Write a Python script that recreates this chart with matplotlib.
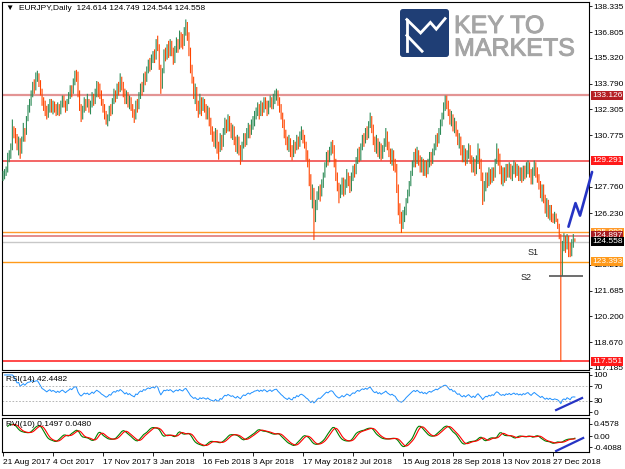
import numpy as np
import pandas as pd
import matplotlib
matplotlib.use("Agg")
import matplotlib.pyplot as plt
import matplotlib.patheffects as pe
from matplotlib.patches import FancyBboxPatch

plt.rcParams['font.family'] = ['Liberation Sans', 'DejaVu Sans']

W, H = 625, 469

# daily EURJPY bars, 21 Aug 2017 onwards (open = previous close)
first_open = 128.30
close = [
    128.45, 128.60, 128.70, 129.55, 129.70, 130.05, 131.05, 130.90, 130.55, 130.20,
    130.45, 129.90, 130.50, 131.05, 130.80, 131.70, 132.40, 132.60, 133.20, 133.70,
    133.55, 134.10, 134.30, 133.90, 133.40, 132.80, 132.60, 132.30, 132.00, 132.40,
    132.70, 132.30, 132.60, 132.40, 132.10, 132.50, 132.20, 132.60, 132.90, 132.60,
    132.30, 132.70, 133.00, 133.50, 133.30, 133.90, 134.40, 134.30, 133.20, 132.40,
    131.90, 132.30, 132.80, 132.50, 132.80, 132.30, 132.60, 133.10, 132.70, 133.30,
    133.80, 133.50, 133.20, 132.70, 132.40, 132.00, 131.60, 131.80, 132.30, 132.10,
    132.80, 133.20, 133.00, 133.60, 133.40, 134.00, 133.70, 133.30, 132.80, 133.20,
    132.60, 132.90, 132.40, 132.10, 131.80, 132.60, 132.40, 133.10, 133.60, 133.40,
    134.20, 134.00, 134.60, 135.00, 134.80, 135.30, 135.50, 135.30, 136.20, 136.00,
    134.80, 133.60, 134.50, 135.60, 135.40, 135.90, 135.60, 136.10, 135.70, 135.20,
    135.80, 136.20, 135.90, 136.60, 136.30, 136.10, 136.90, 137.30, 136.60, 135.80,
    134.70, 134.00, 133.20, 133.50, 132.60, 132.30, 132.90, 132.40, 132.70, 132.40,
    131.90, 132.30, 131.60, 131.10, 130.80, 130.40, 130.90, 130.00, 129.90, 130.60,
    130.20, 130.90, 131.50, 131.20, 131.70, 131.30, 130.90, 131.10, 130.50, 130.10,
    130.60, 130.00, 129.50, 130.20, 130.70, 130.40, 130.90, 131.30, 130.90, 131.40,
    131.60, 132.00, 132.10, 132.40, 132.00, 132.50, 132.20, 132.80, 132.60, 132.20,
    132.60, 132.90, 132.50, 132.90, 133.20, 133.30, 132.80, 132.40, 131.90, 131.50,
    130.90, 130.50, 130.10, 130.50, 129.90, 129.60, 130.20, 130.00, 130.60, 130.20,
    130.70, 130.90, 130.60, 130.20, 129.60, 129.20, 128.20, 127.20, 127.60, 126.20,
    126.60, 127.20, 127.60, 127.40, 127.90, 128.40, 129.00, 129.60, 129.30, 129.90,
    130.20, 130.00, 129.20, 128.40, 127.80, 127.30, 127.60, 128.10, 127.50, 127.90,
    128.50, 128.20, 127.70, 128.30, 128.80, 128.60, 129.30, 129.80, 129.50, 130.10,
    130.60, 130.40, 131.00, 130.70, 131.40, 131.80, 131.20, 130.50, 130.10, 130.50,
    129.80, 130.20, 129.60, 130.00, 130.30, 130.80, 130.20, 129.80, 129.40, 129.70,
    129.20, 128.90, 127.70, 126.50, 126.00, 125.60, 125.90, 126.30, 126.90, 127.40,
    127.90, 128.50, 129.10, 129.60, 129.20, 129.80, 129.40, 128.90, 129.30, 128.70,
    129.10, 128.60, 129.20, 129.60, 129.30, 129.80, 130.10, 130.60, 130.40, 131.00,
    131.50, 131.90, 132.50, 132.80, 132.60, 132.10, 131.60, 131.90, 131.30, 131.50,
    130.90, 130.40, 130.60, 129.90, 129.50, 129.90, 129.30, 129.70, 130.00, 129.40,
    128.90, 129.30, 128.70, 129.40, 129.90, 129.20, 128.40, 127.20, 127.80, 128.30,
    128.00, 128.60, 128.20, 128.70, 128.40, 129.20, 129.80, 129.50, 128.80, 128.40,
    128.70, 128.30, 128.90, 128.60, 129.00, 128.50, 128.80, 129.10, 128.60, 128.90,
    128.40, 128.70, 128.30, 128.80, 128.50, 128.90, 129.10, 128.60, 128.20, 128.70,
    129.10, 128.70, 128.30, 127.90, 127.40, 127.70, 127.10, 126.50, 126.80, 126.20,
    126.50, 126.00, 125.80, 126.00, 125.80, 125.60, 124.90, 123.50, 124.40, 124.70,
    124.20, 124.80, 124.30, 123.80, 124.50, 124.614, 124.558,
]
high = [
    128.70, 128.80, 128.95, 129.75, 129.90, 130.30, 131.70, 131.30, 131.20, 130.85,
    130.70, 130.60, 130.70, 131.50, 131.20, 131.90, 132.55, 132.90, 133.40, 133.90,
    134.05, 134.45, 134.55, 134.40, 134.00, 133.50, 133.00, 132.80, 132.50, 132.60,
    132.90, 132.90, 132.80, 132.75, 132.60, 132.70, 132.60, 132.80, 133.10, 133.10,
    132.80, 132.90, 133.30, 133.70, 133.70, 134.10, 134.55, 134.60, 134.50, 133.40,
    132.60, 132.50, 133.00, 132.90, 133.20, 132.90, 132.80, 133.30, 133.20, 133.50,
    133.95, 133.90, 133.80, 133.40, 132.90, 132.60, 132.20, 132.00, 132.50, 132.60,
    132.95, 133.50, 133.40, 133.80, 133.90, 134.40, 134.20, 133.90, 133.50, 133.40,
    133.30, 133.10, 133.00, 132.60, 132.30, 132.80, 132.90, 133.30, 133.80, 133.90,
    134.40, 134.50, 134.80, 135.20, 135.30, 135.50, 135.70, 135.80, 136.40, 136.60,
    136.10, 134.90, 134.70, 135.80, 135.90, 136.10, 136.30, 136.40, 136.30, 135.90,
    136.00, 136.50, 136.40, 136.90, 136.80, 136.70, 137.10, 137.55, 137.40, 136.80,
    135.90, 134.90, 134.20, 133.80, 133.60, 132.80, 133.20, 133.00, 133.00, 132.90,
    132.60, 132.50, 132.40, 131.80, 131.30, 131.00, 131.20, 131.10, 130.40, 130.90,
    130.80, 131.20, 131.80, 131.70, 132.00, 131.90, 131.50, 131.40, 131.30, 130.70,
    130.80, 130.70, 130.20, 130.40, 130.90, 130.90, 131.20, 131.50, 131.40, 131.70,
    131.90, 132.20, 132.40, 132.70, 132.60, 132.80, 132.70, 133.00, 133.00, 132.80,
    132.80, 133.10, 133.00, 133.20, 133.40, 133.50, 133.40, 133.00, 132.60, 132.10,
    131.70, 131.10, 130.70, 130.80, 130.60, 130.20, 130.50, 130.40, 130.80, 130.70,
    131.00, 131.30, 131.10, 130.80, 130.40, 129.90, 129.40, 128.50, 127.90, 127.70,
    127.00, 127.50, 127.80, 127.90, 128.20, 128.60, 129.20, 129.80, 129.90, 130.10,
    130.40, 130.50, 130.20, 129.40, 128.60, 128.00, 127.90, 128.30, 128.30, 128.20,
    128.80, 128.60, 128.40, 128.60, 129.00, 129.10, 129.50, 130.00, 130.10, 130.30,
    130.80, 130.90, 131.20, 131.30, 131.60, 132.10, 131.90, 131.40, 130.70, 130.80,
    130.60, 130.40, 130.30, 130.20, 130.60, 131.20, 131.00, 130.40, 130.00, 130.00,
    129.90, 129.40, 129.10, 127.90, 126.80, 126.30, 126.40, 126.60, 127.10, 127.60,
    128.10, 128.70, 129.30, 129.80, 130.00, 130.10, 129.90, 129.60, 129.50, 129.40,
    129.30, 129.30, 129.40, 129.80, 129.80, 130.00, 130.30, 130.80, 130.90, 131.20,
    131.70, 132.10, 132.70, 133.10, 133.10, 132.80, 132.30, 132.20, 132.00, 131.80,
    131.60, 131.10, 130.90, 130.70, 130.20, 130.20, 130.00, 129.90, 130.30, 130.20,
    129.60, 129.50, 129.40, 129.60, 130.30, 130.00, 129.40, 128.60, 128.10, 128.60,
    128.60, 128.90, 128.80, 128.90, 128.90, 129.40, 130.30, 130.00, 129.70, 129.00,
    128.90, 128.90, 129.10, 129.10, 129.20, 129.10, 129.00, 129.30, 129.20, 129.10,
    129.00, 128.90, 128.90, 129.00, 129.00, 129.20, 129.30, 129.20, 128.80, 128.90,
    129.30, 129.20, 128.90, 128.50, 128.10, 127.90, 127.90, 127.30, 127.10, 127.00,
    126.70, 126.70, 126.20, 126.30, 126.20, 125.90, 125.60, 125.00, 124.60, 125.05,
    124.90, 125.00, 124.90, 124.50, 124.70, 125.00, 124.749,
]
low = [
    128.10, 128.20, 128.40, 128.60, 129.20, 129.40, 129.90, 130.60, 130.30, 129.90,
    129.60, 129.40, 129.70, 130.40, 130.40, 130.80, 131.60, 132.10, 132.50, 133.00,
    133.20, 133.40, 133.90, 133.60, 133.10, 132.50, 132.20, 131.90, 131.70, 131.80,
    132.10, 132.10, 132.00, 132.10, 131.90, 131.95, 131.90, 132.00, 132.40, 132.40,
    132.10, 132.20, 132.60, 132.90, 133.00, 133.20, 133.70, 133.90, 133.00, 132.20,
    131.55, 131.70, 132.10, 132.20, 132.40, 132.10, 132.00, 132.40, 132.50, 132.60,
    133.00, 133.00, 132.90, 132.50, 132.10, 131.70, 131.40, 131.30, 131.60, 131.90,
    132.00, 132.60, 132.70, 132.90, 133.10, 133.30, 133.40, 133.00, 132.60, 132.60,
    132.40, 132.30, 132.20, 131.80, 131.50, 131.70, 132.10, 132.30, 132.90, 133.10,
    133.30, 133.70, 133.90, 134.40, 134.50, 134.60, 135.00, 135.00, 135.20, 135.70,
    134.60, 133.20, 133.50, 134.40, 135.10, 135.20, 135.30, 135.40, 135.40, 134.90,
    135.00, 135.60, 135.60, 135.80, 135.90, 135.80, 136.00, 136.60, 136.30, 135.40,
    134.40, 133.80, 132.90, 132.60, 132.20, 131.80, 132.00, 131.90, 132.20, 132.10,
    131.70, 131.70, 131.30, 130.80, 130.40, 130.10, 130.00, 129.70, 129.35, 129.80,
    129.90, 130.10, 130.80, 130.90, 131.00, 131.00, 130.60, 130.50, 130.20, 129.80,
    129.70, 129.60, 129.05, 129.30, 130.00, 130.10, 130.20, 130.60, 130.60, 130.80,
    131.10, 131.30, 131.70, 131.90, 131.70, 131.90, 131.90, 132.10, 132.30, 131.90,
    132.00, 132.40, 132.30, 132.30, 132.60, 132.80, 132.50, 132.10, 131.70, 131.20,
    130.60, 130.20, 129.90, 129.80, 129.50, 129.30, 129.50, 129.70, 129.90, 129.95,
    130.10, 130.50, 130.30, 130.00, 129.30, 128.90, 127.80, 127.00, 126.50, 124.65,
    125.70, 126.40, 127.00, 126.90, 127.20, 127.70, 128.30, 128.90, 129.00, 129.20,
    129.60, 129.70, 128.90, 128.10, 127.50, 126.80, 127.10, 127.30, 127.20, 127.30,
    127.70, 127.80, 127.40, 127.50, 128.10, 128.30, 128.50, 129.10, 129.20, 129.30,
    129.90, 130.10, 130.30, 130.50, 130.60, 131.20, 130.90, 130.20, 129.80, 129.70,
    129.50, 129.40, 129.30, 129.40, 129.80, 130.10, 129.90, 129.50, 129.10, 129.00,
    128.70, 128.60, 127.40, 126.10, 125.60, 125.06, 125.30, 125.70, 126.10, 126.80,
    127.20, 127.80, 128.40, 128.90, 128.90, 129.10, 129.00, 128.60, 128.60, 128.40,
    128.40, 128.30, 128.50, 128.90, 129.00, 129.10, 129.60, 129.90, 130.10, 130.30,
    130.80, 131.30, 131.70, 132.20, 132.30, 131.90, 131.40, 131.30, 131.00, 130.90,
    130.70, 130.20, 130.00, 129.60, 129.20, 129.20, 129.00, 129.10, 129.40, 129.10,
    128.60, 128.60, 128.40, 128.50, 129.10, 128.80, 128.10, 126.70, 126.90, 127.50,
    127.70, 127.80, 127.90, 128.00, 128.10, 128.30, 129.10, 129.00, 128.50, 127.90,
    127.80, 128.00, 128.10, 128.30, 128.30, 128.20, 128.10, 128.50, 128.30, 128.40,
    128.10, 128.10, 128.00, 128.10, 128.20, 128.30, 128.50, 128.30, 127.90, 127.90,
    128.40, 128.30, 128.00, 127.60, 127.10, 126.90, 126.80, 126.20, 126.00, 125.90,
    125.80, 125.70, 125.65, 125.60, 125.70, 125.30, 124.70, 117.551, 122.55, 124.00,
    123.90, 124.10, 123.65, 123.65, 123.70, 124.20, 124.544,
]

date_labels = ['21 Aug 2017', '4 Oct 2017', '17 Nov 2017', '3 Jan 2018',
               '16 Feb 2018', '3 Apr 2018', '17 May 2018', '2 Jul 2018',
               '15 Aug 2018', '28 Sep 2018', '13 Nov 2018', '27 Dec 2018']
bars_per_label = 32

price_ticks = [138.335, 136.805, 135.320, 133.790, 132.305, 130.775,
               127.760, 126.230, 123.215, 121.685, 120.200, 118.670, 117.185]

# horizontal levels drawn on the chart
level_prices = [133.126, 129.291, 125.093, 124.897, 124.558, 123.393, 117.551]
level_line_colors = ['#e39494', '#f03c3c', '#ff9a2a', '#e07878', '#c8c8c8', '#ff9a1a', '#ff2a2a']
level_box_colors = ['#b51f24', '#ff1a1a', '#ff9a2a', '#a51c22', '#000000', '#ff9a1a', '#ff1a1a']
level_widths = [1.6, 1.1, 1.0, 1.2, 1.0, 1.0, 1.2]

# hand drawn annotations (bar index, value)
s1_pos = (339.2, 123.91)
s2_pos = (334.7, 122.43)
s2_line = (349.6, 371.4, 122.52)
arrow_x = [361.9, 366.4, 369.3, 377.0]
arrow_y = [125.43, 126.81, 126.08, 128.63]
rsi_line_x = [354.0, 370.6]
rsi_line_y = [5.4, 37.8]
rvi_line_x = [354.0, 371.3]
rvi_line_y = [-0.546, -0.063]

rsi_ticks = [100, 70, 30, 0]
rvi_ticks = [0.4578, 0.0, -0.4088]
rvi_tick_labels = ['0.4578', '0.00', '-0.4088']


def px_box(x0, y0, x1, y1):
    # pixel box (top-left origin) -> figure fraction rect
    return [x0 / W, 1 - y1 / H, (x1 - x0) / W, (y1 - y0) / H]


def main():
    c = np.array(close)
    h = np.array(high)
    l = np.array(low)
    o = np.r_[first_open, c[:-1]]
    n = len(c)
    idx = np.arange(n)
    assert len(h) == n and len(l) == n

    # indicators
    cs = pd.Series(c)
    d = cs.diff()
    gain = d.clip(lower=0).ewm(alpha=1 / 14, adjust=False).mean()
    loss = (-d.clip(upper=0)).ewm(alpha=1 / 14, adjust=False).mean()
    rsi = 100 - 100 / (1 + gain / loss)

    co = pd.Series(c - o)
    hl = pd.Series(h - l)
    num = (co + 2 * co.shift(1) + 2 * co.shift(2) + co.shift(3)) / 6
    den = (hl + 2 * hl.shift(1) + 2 * hl.shift(2) + hl.shift(3)) / 6
    rvi = num.rolling(10, min_periods=1).mean() / den.rolling(10, min_periods=1).mean()
    sig = (rvi + 2 * rvi.shift(1) + 2 * rvi.shift(2) + rvi.shift(3)) / 6

    fig = plt.figure(figsize=(W / 100, H / 100), dpi=100)
    ax = fig.add_axes(px_box(2, 2, 589, 370))
    ax_rsi = fig.add_axes(px_box(2, 372, 589, 415))
    ax_rvi = fig.add_axes(px_box(2, 418, 589, 452))

    xlim = (-0.64, 375.04)
    for a in (ax, ax_rsi, ax_rvi):
        a.set_xlim(*xlim)
        a.yaxis.tick_right()
        a.tick_params(axis='y', length=2.5, width=0.6, labelsize=6, pad=0.8)
        a.tick_params(axis='x', length=0, labelbottom=False)
        for s in a.spines.values():
            s.set_linewidth(0.8)
            s.set_color('black')

    # bars
    up = c >= o
    green, red = '#2e8b57', '#ff4500'
    lo = np.minimum(l, np.minimum(o, c))
    hi = np.maximum(h, np.maximum(o, c))
    for mask, col in ((up, green), (~up, red)):
        ax.vlines(idx[mask], lo[mask], hi[mask], color=col, lw=0.8, zorder=3, snap=False)

    for p, lc, lw in zip(level_prices, level_line_colors, level_widths):
        ax.axhline(p, color=lc, lw=lw, zorder=2)

    ax.set_ylim(117.05, 138.57)
    ax.set_yticks(price_ticks)
    ax.set_yticklabels([f'{t:.3f}' for t in price_ticks])

    for p, bg in zip(level_prices, level_box_colors):
        ax.annotate(f'{p:.3f}', xy=(1, p), xycoords=('axes fraction', 'data'),
                    xytext=(2.2, 0), textcoords='offset points', va='center', ha='left',
                    fontsize=6, color='white', annotation_clip=False, zorder=10,
                    bbox=dict(boxstyle='square,pad=0.12', fc=bg, ec='none'))

    ax.text(s1_pos[0], s1_pos[1], 'S1', fontsize=6.5, ha='center', va='center', color='#222222')
    ax.text(s2_pos[0], s2_pos[1], 'S2', fontsize=6.5, ha='center', va='center', color='#222222')
    ax.hlines(s2_line[2], s2_line[0], s2_line[1], color='#555555', lw=1.2, clip_on=False, zorder=6)
    ax.plot(arrow_x, arrow_y, color='#2634c4', lw=1.9, clip_on=False, zorder=7,
            solid_capstyle='round')

    ax.text(0.006, 0.992, '\u25bc  EURJPY,Daily  124.614 124.749 124.544 124.558',
            transform=ax.transAxes, fontsize=6, va='top', ha='left',
            family=['Liberation Sans', 'DejaVu Sans'])

    # RSI panel
    ax_rsi.plot(idx, rsi, color='#1e90ff', lw=0.7)
    for lvl in (70, 30):
        ax_rsi.axhline(lvl, color='#aaaaaa', lw=0.6, ls=(0, (2, 2)))
    ax_rsi.set_ylim(-8, 108)
    ax_rsi.set_yticks(rsi_ticks)
    ax_rsi.set_yticklabels([str(t) for t in rsi_ticks])
    ax_rsi.plot(rsi_line_x, rsi_line_y, color='#2634c4', lw=1.6, clip_on=False)
    ax_rsi.text(0.006, 0.9, 'RSI(14) 42.4482', transform=ax_rsi.transAxes,
                fontsize=6, va='top', ha='left')

    # RVI panel
    ax_rvi.plot(idx, rvi, color='#008000', lw=0.8)
    ax_rvi.plot(idx, sig, color='#ff0000', lw=0.8)
    ax_rvi.set_ylim(-0.584, 0.681)
    ax_rvi.set_yticks(rvi_ticks)
    ax_rvi.set_yticklabels(rvi_tick_labels)
    ax_rvi.plot(rvi_line_x, rvi_line_y, color='#2634c4', lw=1.6, clip_on=False)
    ax_rvi.text(0.006, 0.9, 'RVI(10) 0.1497 0.0480', transform=ax_rvi.transAxes,
                fontsize=6, va='top', ha='left')

    ax_rvi.set_xticks([k * bars_per_label for k in range(len(date_labels))])
    ax_rvi.set_xticklabels(date_labels, ha='left')
    ax_rvi.tick_params(axis='x', length=3, width=0.6, labelbottom=True, labelsize=6, pad=2)

    # logo
    lax = fig.add_axes(px_box(400, 9, 449, 57))
    lax.set_xlim(0, 1)
    lax.set_ylim(0, 1)
    lax.axis('off')
    lax.add_patch(FancyBboxPatch((0, 0), 1, 1, boxstyle='round,pad=0,rounding_size=0.06',
                                 fc='#1f3e75', ec='none'))
    lax.plot([0.14, 0.14], [0.12, 0.78], color='white', lw=2)
    lax.plot([0.14, 0.42, 0.62, 0.74, 0.92], [0.78, 0.50, 0.72, 0.58, 0.80],
             color='white', lw=2, solid_joinstyle='miter')
    lax.plot([0.14, 0.45], [0.45, 0.12], color='white', lw=2)
    thick = [pe.withStroke(linewidth=0.7, foreground='#a5a5a5')]
    fig.text(454 / W, 1 - 14 / H, 'KEY TO\nMARKETS', fontsize=18, color='#a5a5a5',
             va='top', ha='left', linespacing=0.93, path_effects=thick)

    fig.savefig('out.png', dpi=100)


if __name__ == '__main__':
    main()
